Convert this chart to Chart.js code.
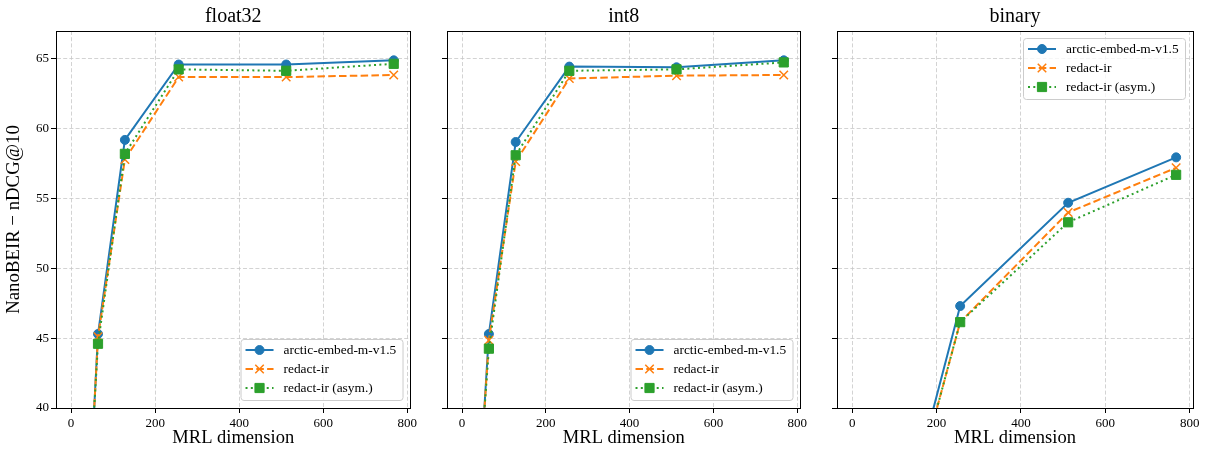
<!DOCTYPE html>
<html>
<head>
<meta charset="utf-8">
<script src="https://cdn.jsdelivr.net/npm/chart.js@4"></script>
<style>
html, body { margin: 0; padding: 0; background: #fff; }
#wrap { position: relative; width: 1207px; height: 452px; }
#wrap canvas { position: absolute; top: 0; }
</style>
</head>
<body>
<div id="wrap">
  <canvas id="c0" width="420" height="452" style="left:0px"></canvas>
  <canvas id="c1" width="390" height="452" style="left:420px"></canvas>
  <canvas id="c2" width="397" height="452" style="left:810px"></canvas>
</div>
<script>
// MRL truncation sizes
const dims = [32, 64, 128, 256, 512, 768];
const seriesNames = ['arctic-embed-m-v1.5', 'redact-ir', 'redact-ir (asym.)'];
const panelTitles = ['float32', 'int8', 'binary'];

// NanoBEIR nDCG@10 per quantisation
const float32Arctic = [26.5, 45.3, 59.2, 64.6, 64.6, 64.9];
const float32Redact = [27.0, 45.1, 57.8, 63.7, 63.7, 63.85];
const float32Asym   = [28.3, 44.6, 58.2, 64.25, 64.15, 64.65];

const int8Arctic = [29.5, 45.3, 59.05, 64.45, 64.4, 64.9];
const int8Redact = [30.0, 44.85, 57.65, 63.6, 63.8, 63.85];
const int8Asym   = [31.0, 44.25, 58.1, 64.15, 64.25, 64.75];

const binaryArctic = [null, null, 32.5, 47.3, 54.7, 57.95];
const binaryRedact = [null, null, 31.8, 46.15, 54.0, 57.2];
const binaryAsym   = [null, null, 31.8, 46.15, 53.3, 56.7];

const xTicks = [0, 200, 400, 600, 800];
const yTicks = [40, 45, 50, 55, 60, 65];

const SERIF = "'Liberation Serif', 'DejaVu Serif', serif";

// matplotlib-style legend box drawn inside the plot area
const boxLegend = {
  id: 'boxLegend',
  afterDraw(chart, args, opts) {
    const { ctx, chartArea: a } = chart;
    const w = 162, h = 61;
    const left = a.right - 8 - w;
    const top = opts.loc === 'upper' ? a.top + 7 : a.bottom - 8 - h;
    ctx.save();
    ctx.beginPath();
    ctx.roundRect(left + 0.5, top + 0.5, w, h, 3);
    ctx.fillStyle = 'rgba(255,255,255,0.8)';
    ctx.fill();
    ctx.strokeStyle = '#cccccc';
    ctx.lineWidth = 1;
    ctx.stroke();
    ctx.font = '13.4px ' + SERIF;
    ctx.textBaseline = 'middle';
    chart.data.datasets.forEach((ds, i) => {
      const y = top + 11 + i * 19;
      ctx.strokeStyle = ds.borderColor;
      ctx.lineWidth = ds.borderWidth;
      ctx.setLineDash(ds.borderDash || []);
      ctx.beginPath();
      ctx.moveTo(left + 5, y);
      ctx.lineTo(left + 33, y);
      ctx.stroke();
      ctx.setLineDash([]);
      ctx.fillStyle = ds.pointBackgroundColor;
      ctx.strokeStyle = ds.pointBorderColor;
      ctx.lineWidth = ds.pointBorderWidth;
      Chart.helpers.drawPoint(ctx, {
        pointStyle: ds.pointStyle, radius: ds.pointRadius, rotation: 0, borderWidth: ds.pointBorderWidth
      }, left + 19, y);
      ctx.fillStyle = '#000';
      ctx.fillText(ds.label, left + 43, y);
    });
    ctx.restore();
  }
};

function series(values, i) {
  const styles = [
    { color: '#1f77b4', dash: [], point: 'circle', r: 4.5, pw: 1, order: 3 },
    { color: '#ff7f0e', dash: [7.5, 3.3], point: 'crossRot', r: 6, pw: 1.5, order: 2 },
    { color: '#2ca02c', dash: [2, 3.3], point: 'rect', r: 6.5, pw: 1, order: 1 }
  ][i];
  return {
    label: seriesNames[i],
    data: dims.map((d, k) => ({ x: d, y: values[k] })),
    xAxisID: 'x',
    yAxisID: 'y',
    borderColor: styles.color,
    backgroundColor: styles.color,
    borderWidth: 2,
    borderDash: styles.dash,
    borderCapStyle: 'butt',
    pointStyle: styles.point,
    pointRadius: styles.r,
    pointBorderWidth: styles.pw,
    pointBackgroundColor: styles.color,
    pointBorderColor: styles.color,
    tension: 0,
    order: styles.order
  };
}

function makePanel(id, title, values, cfg) {
  const gridOpts = { color: '#c8c8c8', lineWidth: 0.8, tickLength: 5, tickColor: '#000', tickWidth: 1 };
  new Chart(document.getElementById(id), {
    type: 'line',
    data: { datasets: values.map((v, i) => series(v, i)) },
    options: {
      responsive: false,
      animation: false,
      events: [],
      layout: { padding: { left: 0, right: cfg.padRight, top: 0, bottom: 0 } },
      plugins: {
        legend: { display: false },
        tooltip: { enabled: false },
        boxLegend: { loc: cfg.legendLoc }
      },
      scales: {
        x: {
          type: 'linear', position: 'bottom', min: -36, max: 808,
          afterBuildTicks: s => { s.ticks = xTicks.map(v => ({ value: v })); },
          afterFit: s => { s.height = 44; },
          grid: gridOpts,
          border: { color: '#000', width: 1, dash: [4, 2.2] },
          ticks: { color: '#000', font: { family: SERIF, size: 13 }, padding: 3, maxRotation: 0, autoSkip: false },
          title: { display: true, text: 'MRL dimension', color: '#000', font: { family: SERIF, size: 18.5 }, padding: { top: 0, bottom: 2.4 } }
        },
        xTop: {
          type: 'linear', position: 'top', min: -36, max: 808,
          afterFit: s => { s.height = 31; },
          grid: { drawOnChartArea: false, drawTicks: false },
          border: { color: '#000', width: 1 },
          ticks: { display: false },
          title: { display: true, text: title, color: '#000', font: { family: SERIF, size: 20 }, padding: { top: 5, bottom: 0 } }
        },
        y: {
          type: 'linear', position: 'left', min: 40, max: 67,
          afterBuildTicks: s => { s.ticks = yTicks.map(v => ({ value: v })); },
          afterFit: s => { s.width = cfg.yWidth; },
          grid: gridOpts,
          border: { color: '#000', width: 1, dash: [4, 2.2] },
          ticks: { display: cfg.yLabels, color: '#000', font: { family: SERIF, size: 13 }, padding: 2 },
          title: { display: cfg.yLabels, text: 'NanoBEIR − nDCG@10', color: '#000', font: { family: SERIF, size: 18.8 }, padding: { top: 3.2, bottom: 0 } }
        },
        yRight: {
          type: 'linear', position: 'right', min: 40, max: 67,
          afterFit: s => { s.width = 0; },
          grid: { drawOnChartArea: false, drawTicks: false },
          border: { color: '#000', width: 1 },
          ticks: { display: false }
        }
      }
    },
    plugins: [boxLegend]
  });
}

makePanel('c0', panelTitles[0], [float32Arctic, float32Redact, float32Asym],
  { padRight: 7, yWidth: 56, yLabels: true, legendLoc: 'lower' });
makePanel('c1', panelTitles[1], [int8Arctic, int8Redact, int8Asym],
  { padRight: 7, yWidth: 27, yLabels: false, legendLoc: 'lower' });
makePanel('c2', panelTitles[2], [binaryArctic, binaryRedact, binaryAsym],
  { padRight: 14, yWidth: 27, yLabels: false, legendLoc: 'upper' });
</script>
</body>
</html>
